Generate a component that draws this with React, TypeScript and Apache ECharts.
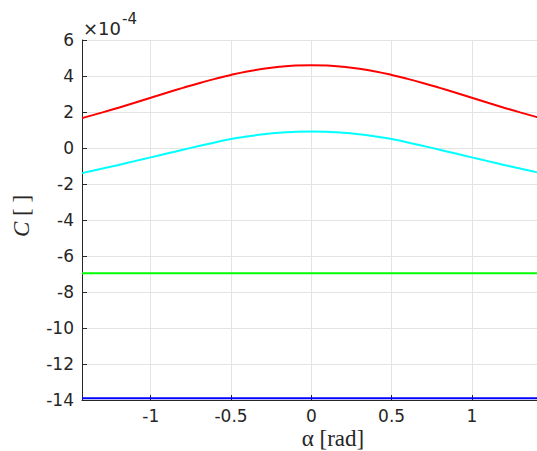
import React, { useEffect, useRef } from "react";
import * as echarts from "echarts";

// x values (alpha, rad) and series values in units of 1e-4
const alpha = [
  -1.428, -1.4, -1.3, -1.2, -1.1, -1.0, -0.9, -0.8, -0.7, -0.6, -0.5, -0.4, -0.3, -0.2, -0.1, 0,
  0.1, 0.2, 0.3, 0.4, 0.5, 0.6, 0.7, 0.8, 0.9, 1.0, 1.1, 1.2, 1.3, 1.4, 1.428,
];
const redC = [
  1.66, 1.73, 1.98, 2.24, 2.51, 2.79, 3.07, 3.34, 3.6, 3.84, 4.06, 4.25, 4.4, 4.51, 4.58, 4.6,
  4.58, 4.51, 4.4, 4.25, 4.06, 3.84, 3.6, 3.34, 3.07, 2.79, 2.51, 2.24, 1.98, 1.73, 1.66,
];
const cyanC = [
  -1.41, -1.34, -1.14, -0.94, -0.73, -0.52, -0.31, -0.1, 0.11, 0.31, 0.5, 0.64, 0.76, 0.85, 0.9, 0.92,
  0.9, 0.85, 0.76, 0.64, 0.5, 0.31, 0.11, -0.1, -0.31, -0.52, -0.73, -0.94, -1.14, -1.34, -1.41,
];
const flatAlpha = [-1.428, 1.428];
const greenC = [-6.96, -6.96];
const blueC = [-13.9, -13.9];
const yTicks = { min: -14, max: 6, step: 2 };

const pairs = (xs: number[], ys: number[]) => xs.map((x, i) => [x, ys[i]]);

export default function App() {
  const ref = useRef<HTMLDivElement>(null);
  useEffect(() => {
    if (!ref.current) return;
    const chart = echarts.init(ref.current, null, { renderer: "svg" });
    const axisColor = "#262626";
    const tickFont = { fontFamily: "DejaVu Sans", fontSize: 17, color: axisColor };
    chart.setOption({
      animation: false,
      backgroundColor: "#ffffff",
      grid: { left: 82, top: 40, width: 458.6, height: 360, containLabel: false },
      xAxis: {
        type: "value",
        min: flatAlpha[0],
        max: flatAlpha[1],
        splitNumber: 5,
        axisLine: { show: true, onZero: false, lineStyle: { color: axisColor, width: 1 } },
        axisTick: { show: true, inside: true, length: 5, lineStyle: { color: axisColor } },
        axisLabel: {
          ...tickFont,
          margin: 7,
          showMinLabel: false,
          showMaxLabel: false,
          formatter: (v: number) => (Math.abs(v * 2 - Math.round(v * 2)) < 1e-6 ? String(v) : ""),
        },
        splitLine: { show: true, lineStyle: { color: "#e3e3e3", width: 1 } },
      },
      yAxis: {
        type: "value",
        min: yTicks.min,
        max: yTicks.max,
        interval: yTicks.step,
        axisLine: { show: true, onZero: false, lineStyle: { color: axisColor, width: 1 } },
        axisTick: { show: true, inside: true, length: 5, lineStyle: { color: axisColor } },
        axisLabel: { ...tickFont, margin: 8 },
        splitLine: { show: true, lineStyle: { color: "#e3e3e3", width: 1 } },
      },
      series: [
        {
          type: "line",
          data: pairs(alpha, redC),
          smooth: true,
          showSymbol: false,
          lineStyle: { color: "#ff0000", width: 2 },
        },
        {
          type: "line",
          data: pairs(alpha, cyanC),
          smooth: true,
          showSymbol: false,
          lineStyle: { color: "#00ffff", width: 2 },
        },
        {
          type: "line",
          data: pairs(flatAlpha, greenC),
          showSymbol: false,
          lineStyle: { color: "#00ff00", width: 2 },
        },
        {
          type: "line",
          data: pairs(flatAlpha, blueC),
          showSymbol: false,
          lineStyle: { color: "#0000ff", width: 2 },
        },
      ],
      graphic: [
        {
          type: "text",
          x: 83,
          y: 28.5,
          style: {
            text: "×10",
            font: '18px "DejaVu Sans"',
            fill: axisColor,
            align: "left",
            verticalAlign: "middle",
          },
        },
        {
          type: "text",
          x: 122,
          y: 19,
          style: {
            text: "-4",
            font: '15px "DejaVu Sans"',
            fill: axisColor,
            align: "left",
            verticalAlign: "middle",
          },
        },
        {
          type: "text",
          x: 21,
          y: 216,
          rotation: Math.PI / 2,
          style: {
            text: "{i|C} [ ]",
            rich: {
              i: { fontStyle: "italic", fontFamily: "Liberation Serif", fontSize: 23, fill: axisColor },
            },
            font: '23px "Liberation Serif"',
            fill: axisColor,
            align: "center",
            verticalAlign: "middle",
          },
        },
        {
          type: "text",
          x: 333,
          y: 438,
          style: {
            text: "α [rad]",
            font: '23px "Liberation Serif"',
            fill: axisColor,
            align: "center",
            verticalAlign: "middle",
          },
        },
      ],
    });
    return () => chart.dispose();
  }, []);
  return (
    <div
      ref={ref}
      style={{ position: "fixed", left: 0, top: 0, width: 545, height: 451, background: "#fff" }}
    />
  );
}
